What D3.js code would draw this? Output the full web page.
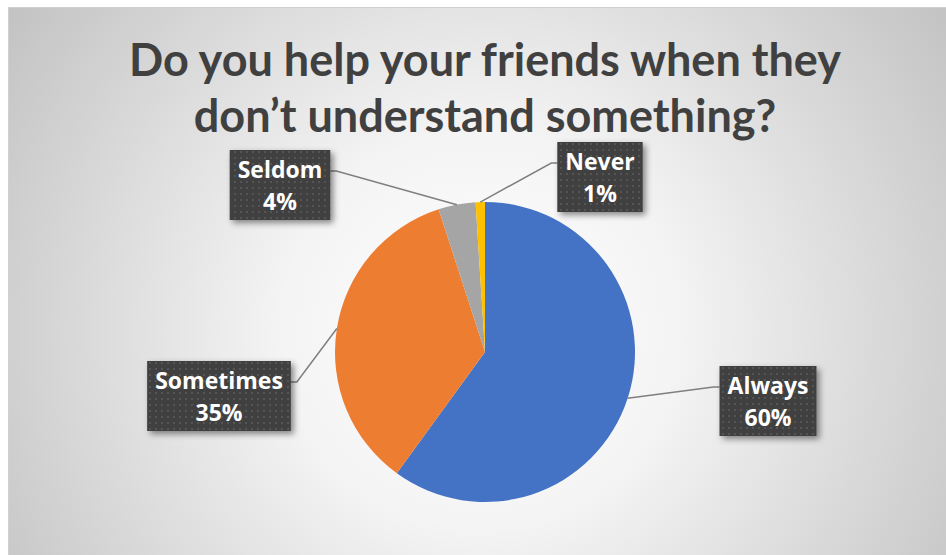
<!DOCTYPE html>
<html>
<head>
<meta charset="utf-8">
<script src="https://cdn.jsdelivr.net/npm/d3@7"></script>
<style>
  body { margin: 0; background: #fff; }
  text.title { font-family: Lato, "Open Sans", sans-serif; }
  .label text { font-family: "Open Sans", Lato, sans-serif; }
</style>
</head>
<body>
<script>
var categories = ["Always", "Sometimes", "Seldom", "Never"];
var values = [60, 35, 4, 1];
var colors = ["#4472C4", "#ED7D31", "#A5A5A5", "#FFC000"];
var titleLines = ["Do you help your friends when they", "don\u2019t understand something?"];

// label box centres (layout, not data)
var labelPos = [[768, 401], [219, 396], [280, 185], [600, 177]];

var width = 946, height = 555;
var cx = 485, cy = 352, r = 150;

var svg = d3.select('body').append('svg')
    .attr('width', width)
    .attr('height', height);

var defs = svg.append('defs');
var bg = defs.append('radialGradient').attr('id', 'bg')
    .attr('gradientUnits', 'userSpaceOnUse')
    .attr('cx', 480).attr('cy', 330).attr('r', 560);
bg.append('stop').attr('offset', '0%').attr('stop-color', '#ffffff');
bg.append('stop').attr('offset', '35%').attr('stop-color', '#f4f4f4');
bg.append('stop').attr('offset', '100%').attr('stop-color', '#c4c4c4');

var pat = defs.append('pattern').attr('id', 'dots')
    .attr('patternUnits', 'userSpaceOnUse')
    .attr('width', 6).attr('height', 6);
pat.append('rect').attr('width', 6).attr('height', 6).attr('fill', '#404040');
pat.append('rect').attr('x', 2).attr('y', 2).attr('width', 2).attr('height', 2).attr('fill', '#555555');

var shadow = defs.append('filter').attr('id', 'shadow')
    .attr('x', '-20%').attr('y', '-20%').attr('width', '150%').attr('height', '150%');
shadow.append('feDropShadow')
    .attr('dx', 3).attr('dy', 3).attr('stdDeviation', 3)
    .attr('flood-color', '#000').attr('flood-opacity', 0.45);

svg.append('rect')
    .attr('x', 8.5).attr('y', 7.5)
    .attr('width', width).attr('height', height)
    .attr('fill', 'url(#bg)')
    .attr('stroke', '#d0d0d0');

svg.selectAll('text.title')
    .data(titleLines)
    .enter().append('text')
        .attr('class', 'title')
        .attr('x', 485)
        .attr('y', function (d, i) { return 76 + i * 56; })
        .attr('text-anchor', 'middle')
        .attr('font-size', 45)
        .attr('font-weight', 'bold')
        .attr('fill', '#404040')
        .text(function (d) { return d; });

var data = categories.map(function (c, i) { return { name: c, value: values[i], color: colors[i], pos: labelPos[i] }; });

var pie = d3.pie().sort(null).value(function (d) { return d.value; });
var arc = d3.arc().innerRadius(0).outerRadius(r);
var arcs = pie(data);

var g = svg.append('g').attr('transform', 'translate(' + cx + ',' + cy + ')');

g.selectAll('path')
    .data(arcs)
    .enter().append('path')
        .attr('d', arc)
        .attr('fill', function (d) { return d.data.color; });

var lineLayer = svg.append('g');

var labels = svg.selectAll('g.label')
    .data(arcs)
    .enter().append('g')
        .attr('class', 'label')
        .attr('transform', function (d) { return 'translate(' + d.data.pos[0] + ',' + d.data.pos[1] + ')'; });

var box = labels.append('rect')
    .attr('y', -35)
    .attr('height', 70)
    .attr('fill', 'url(#dots)')
    .attr('filter', 'url(#shadow)');

var t1 = labels.append('text')
    .attr('text-anchor', 'middle')
    .attr('y', -7)
    .attr('font-size', 23)
    .attr('font-weight', 'bold')
    .attr('fill', '#fff')
    .text(function (d) { return d.data.name; });

labels.append('text')
    .attr('text-anchor', 'middle')
    .attr('y', 25)
    .attr('font-size', 23)
    .attr('font-weight', 'bold')
    .attr('fill', '#fff')
    .text(function (d) { return d.data.value + '%'; });

// size the boxes from the label text
t1.each(function (d) { d.boxW = Math.max(this.getComputedTextLength() + 16, 85); });
box.attr('x', function (d) { return -d.boxW / 2; })
    .attr('width', function (d) { return d.boxW; });

// leader lines
lineLayer.selectAll('polyline')
    .data(arcs)
    .enter().append('polyline')
        .attr('fill', 'none')
        .attr('stroke', '#7f7f7f')
        .attr('stroke-width', 1.5)
        .attr('points', function (d) {
            var a = (d.startAngle + d.endAngle) / 2;
            var px = cx + Math.sin(a) * r, py = cy - Math.cos(a) * r;
            var lx = d.data.pos[0], ly = d.data.pos[1];
            var right = px > lx;
            var ex = right ? lx + d.boxW / 2 : lx - d.boxW / 2;
            var ey = ly - 14;
            var kx = ex + (right ? 6 : -6);
            return [[px, py], [kx, ey], [ex, ey]].join(' ');
        });
</script>
</body>
</html>
